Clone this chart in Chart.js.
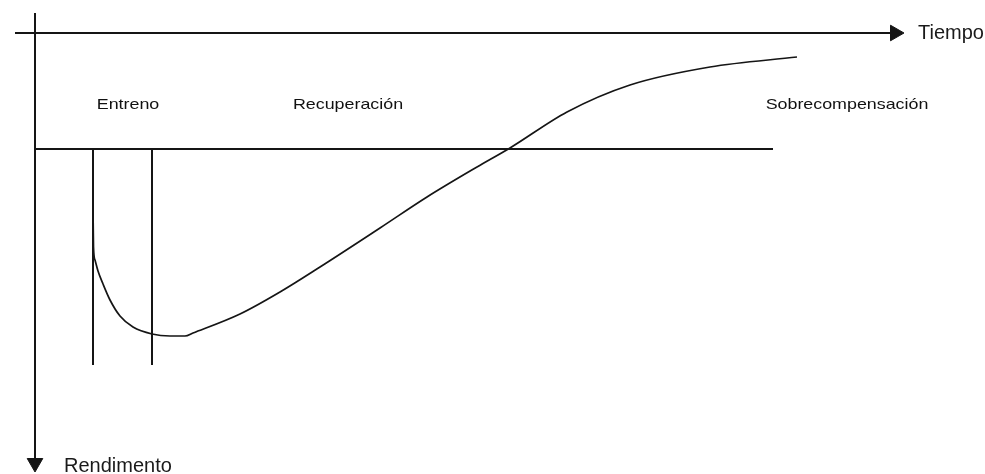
<!DOCTYPE html>
<html>
<head>
<meta charset="utf-8">
<script src="https://cdn.jsdelivr.net/npm/chart.js@4"></script>
<style>
html,body{margin:0;padding:0;background:#fff;}
#c{display:block;}
</style>
</head>
<body>
<canvas id="c" width="985" height="474"></canvas>
<script>
// Data (time units on x, performance units on y; baseline performance = 0)
const curveX = [5.8, 5.85, 6.0, 6.3, 6.8, 7.5, 8.5, 9.8, 11.7, 13.5, 15.0, 15.8, 20.5, 24.5, 28.5, 34.5, 39.2, 44.2, 47.5, 53.2, 59.5, 67.5, 76.2];
const curveY = [-5.8, -9.8, -11.1, -12.2, -13.5, -15.1, -16.7, -17.8, -18.5, -18.7, -18.7, -18.4, -16.5, -14.3, -11.8, -7.9, -4.8, -1.8, 0.1, 3.7, 6.4, 8.2, 9.2];

const timeAxisX = [-2.0, 85.5];
const timeAxisY = [11.6, 11.6];
const perfAxisX = [0, 0];
const perfAxisY = [13.6, -30.9];
const baselineX = [0, 73.8];
const baselineY = [0, 0];
const trainStartX = [5.8, 5.8];
const trainEndX = [11.7, 11.7];
const phaseLineY = [0, -21.6];

const phaseLabels = ["Entreno", "Recuperación", "Sobrecompensación"];
const phaseLabelX = [9.3, 31.3, 81.2];
const phaseLabelY = 4.0;
const axisLabels = ["Tiempo", "Rendimento"];
const axisLabelX = [88.3, 2.9];
const axisLabelY = [11.6, -32.3];
const arrowX = [86.0, 0];
const arrowY = [11.6, -31.4];

const zip = (xs, ys) => xs.map((x, i) => ({x: x, y: ys[i]}));
const ink = '#151515';

function lineSet(points, width) {
  return {data: points, showLine: true, borderColor: ink, borderWidth: width,
          pointRadius: 0, tension: 0, fill: false};
}

const textPlugin = {
  id: 'texts',
  afterDatasetsDraw(chart) {
    const ctx = chart.ctx, xs = chart.scales.x, ys = chart.scales.y;
    ctx.save();
    ctx.fillStyle = '#111';
    ctx.font = '15px "Liberation Sans", Arial, sans-serif';
    ctx.textAlign = 'center';
    ctx.textBaseline = 'alphabetic';
    phaseLabels.forEach((t, i) => {
      ctx.save();
      ctx.translate(xs.getPixelForValue(phaseLabelX[i]), ys.getPixelForValue(phaseLabelY));
      ctx.scale(1.19, 1);
      ctx.fillText(t, 0, 0);
      ctx.restore();
    });
    ctx.fillStyle = '#1a1a1a';
    ctx.font = '20px "Liberation Sans", Arial, sans-serif';
    ctx.textAlign = 'left';
    ctx.textBaseline = 'middle';
    ctx.fillText(axisLabels[0], xs.getPixelForValue(axisLabelX[0]), ys.getPixelForValue(axisLabelY[0]));
    ctx.textBaseline = 'alphabetic';
    ctx.fillText(axisLabels[1], xs.getPixelForValue(axisLabelX[1]), ys.getPixelForValue(axisLabelY[1]));
    ctx.restore();
  }
};

new Chart(document.getElementById('c'), {
  type: 'scatter',
  data: {
    datasets: [
      lineSet(zip(timeAxisX, timeAxisY), 2),
      lineSet(zip(perfAxisX, perfAxisY), 2),
      lineSet(zip(baselineX, baselineY), 2),
      lineSet(zip(trainStartX, phaseLineY), 2),
      lineSet(zip(trainEndX, phaseLineY), 2),
      Object.assign(lineSet(zip(curveX, curveY), 1.7), {cubicInterpolationMode: 'monotone'}),
      {data: [{x: arrowX[0], y: arrowY[0]}], pointStyle: 'triangle', rotation: 90,
       pointRadius: 9, backgroundColor: ink, borderColor: ink, borderWidth: 1, showLine: false},
      {data: [{x: arrowX[1], y: arrowY[1]}], pointStyle: 'triangle', rotation: 180,
       pointRadius: 9, backgroundColor: ink, borderColor: ink, borderWidth: 1, showLine: false}
    ]
  },
  options: {
    responsive: false,
    animation: false,
    layout: {padding: 0, autoPadding: false},
    plugins: {legend: {display: false}, tooltip: {enabled: false}},
    scales: {
      x: {type: 'linear', min: -3.5, max: 95.0, display: false},
      y: {type: 'linear', min: -32.5, max: 14.9, display: false}
    }
  },
  plugins: [textPlugin]
});
</script>
</body>
</html>
